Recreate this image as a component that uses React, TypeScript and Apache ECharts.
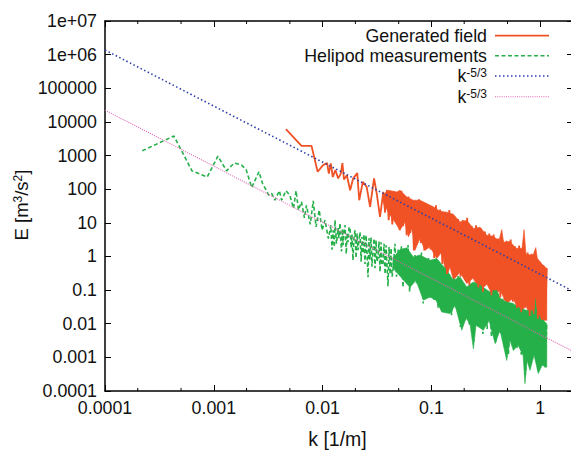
import { useEffect, useRef } from 'react';
import * as echarts from 'echarts';

const FONT = '"Liberation Sans", Arial, Helvetica, sans-serif';
const TEXT = '#111111';

// tick labels
const xTickLabels = ['0.0001', '0.001', '0.01', '0.1', '1'];
const yTickLabels = ['0.0001', '0.001', '0.01', '0.1', '1', '10', '100', '1000', '10000', '100000', '1e+06', '1e+07'];
const xMinorTicks = [0.0002, 0.0005, 0.002, 0.005, 0.02, 0.05, 0.2, 0.5];

const seriesNames = ['Generated field', 'Helipod measurements', 'k-5/3', 'k-5/3'];
const seriesColors = ['#f05226', '#26b04a', '#2e3fa6', '#e064b4'];

// Generated field: sparse low-k part
const orangeLineK = [0.0046, 0.0064, 0.0079, 0.009, 0.0101, 0.011, 0.0114, 0.0119, 0.0124, 0.0131, 0.0139, 0.0147, 0.0152, 0.0157, 0.0167, 0.0179, 0.0191, 0.0208, 0.0217, 0.0234, 0.0254, 0.0273, 0.0297, 0.0314, 0.0337, 0.0361];
const orangeLineE = [6100, 1950, 1950, 330, 520, 600, 290, 580, 230, 370, 210, 290, 600, 195, 260, 93, 210, 300, 47, 165, 117, 30, 210, 75, 15, 83];
// Generated field: oscillation in the mid range
const orangeMidK = [0.0375, 0.039, 0.0405, 0.042, 0.0437, 0.0455, 0.047, 0.049, 0.051, 0.053, 0.055, 0.057, 0.0592, 0.0615, 0.064, 0.0665, 0.069, 0.0715, 0.074, 0.077, 0.08, 0.083, 0.086, 0.089, 0.092, 0.095, 0.098];
const orangeMidE = [20, 95, 12, 80, 9, 85, 16, 70, 6, 90, 8, 55, 4.3, 60, 5, 45, 1.5, 42, 3.0, 50, 2.5, 35, 1.5, 38, 2.2, 30, 1.6];
// Generated field: oscillation in the high range
const orangeHighK = [0.102, 0.106, 0.11, 0.115, 0.12, 0.126, 0.132, 0.139, 0.146, 0.153, 0.16, 0.168, 0.176, 0.185, 0.194, 0.203, 0.213, 0.223, 0.234, 0.245, 0.257, 0.27, 0.283, 0.297, 0.31, 0.325, 0.34, 0.356, 0.373, 0.39, 0.41, 0.43, 0.45, 0.47, 0.49, 0.51, 0.535, 0.56, 0.585, 0.61, 0.64, 0.67, 0.7, 0.73, 0.765, 0.8, 0.835, 0.87, 0.91, 0.95, 0.99, 1.03, 1.07, 1.11, 1.148];
const orangeHighE = [26, 0.9, 33, 1.2, 25, 0.6, 21, 0.3, 24, 0.5, 15, 0.35, 13, 0.25, 12, 0.2, 14, 0.14, 8, 0.25, 8.5, 0.12, 7, 0.09, 5.5, 0.15, 4.8, 0.07, 4.5, 0.1, 3.4, 0.06, 3.1, 0.05, 2.9, 0.06, 3.2, 0.045, 2.0, 0.03, 2.1, 0.022, 1.9, 0.03, 1.3, 0.017, 1.2, 0.02, 1.1, 0.014, 0.7, 0.013, 0.55, 0.014, 0.45];
// Generated field: dense part, upper and lower envelope
const orangeHiK = [0.0361, 0.0402, 0.048, 0.0514, 0.0593, 0.0682, 0.0785, 0.0906, 0.104, 0.12, 0.138, 0.159, 0.183, 0.211, 0.243, 0.28, 0.322, 0.368, 0.418, 0.443, 0.46, 0.527, 0.598, 0.68, 0.71, 0.74, 0.859, 0.91, 0.94, 1.04, 1.148];
const orangeHiE = [70, 93, 83, 93, 59, 47, 47, 37.5, 30, 22, 20.7, 18, 10.6, 11.9, 6.8, 7.4, 4.3, 4.0, 3.0, 6.3, 2.65, 2.8, 1.75, 1.75, 6.3, 1.16, 1.09, 1.84, 0.88, 0.59, 0.44];
const orangeLoK = [0.0361, 0.0416, 0.0463, 0.0514, 0.0572, 0.0614, 0.0664, 0.0706, 0.0785, 0.0873, 0.097, 0.112, 0.1245, 0.138, 0.148, 0.159, 0.183, 0.211, 0.241, 0.28, 0.324, 0.37, 0.427, 0.492, 0.562, 0.652, 0.74, 0.805, 0.896, 0.996, 1.148];
const orangeLoE = [40, 17, 10.4, 6.0, 10.6, 3.8, 6.9, 1.53, 3.4, 1.53, 1.92, 0.87, 1.36, 0.245, 0.49, 0.196, 0.34, 0.156, 0.224, 0.099, 0.149, 0.062, 0.099, 0.04, 0.057, 0.02, 0.035, 0.0159, 0.025, 0.0126, 0.0126];

// Helipod measurements: sparse low-k part
const greenLineK = [0.00022, 0.00043, 0.00063, 0.00087, 0.00109, 0.00131, 0.00154, 0.0018, 0.00198, 0.00223, 0.0026, 0.0028, 0.0032, 0.0034, 0.00365, 0.004, 0.0042, 0.0046, 0.005, 0.0054, 0.0057, 0.006, 0.0064, 0.0068, 0.0071, 0.0077, 0.0082, 0.0087, 0.0093, 0.0099, 0.0105, 0.0113, 0.0119];
const greenLineE = [1380, 3800, 350, 230, 960, 350, 600, 520, 385, 112, 330, 150, 66, 75, 47, 90, 47, 90, 66, 27, 90, 24, 42, 14, 33, 9, 45, 7.6, 24, 6, 12, 3.4, 8.5];
// Helipod measurements: dense oscillation 0.012 - 0.045
const greenZigK = [0.0122, 0.0125, 0.0128, 0.013, 0.0134, 0.01387, 0.0141, 0.01445, 0.0149, 0.0152, 0.01541, 0.0157, 0.01607, 0.0165, 0.0168, 0.01711, 0.0175, 0.01786, 0.0183, 0.0186, 0.01902, 0.0194, 0.01984, 0.0203, 0.0207, 0.02115, 0.0216, 0.02206, 0.0226, 0.023, 0.0235, 0.024, 0.0245, 0.02505, 0.0256, 0.02614, 0.0267, 0.0272, 0.02786, 0.0284, 0.02904, 0.0297, 0.0303, 0.03095, 0.0316, 0.03228, 0.033, 0.0337, 0.03441, 0.0351, 0.0359, 0.0367, 0.0375, 0.03828, 0.0391, 0.0399, 0.0408, 0.0417, 0.04256, 0.0435, 0.04436];
const greenZigE = [1.6, 6, 1.9, 12, 2.4, 7, 3.5, 9.7, 1.4, 6.5, 2.15, 5.5, 8.5, 1.2, 5, 2.65, 7.5, 6.9, 1.8, 4.5, 0.77, 3.6, 6.0, 0.9, 4.8, 1.53, 3.2, 5.25, 0.7, 3.8, 1.24, 4.5, 0.6, 4.3, 1.2, 0.24, 3.5, 0.8, 3.7, 0.5, 1.53, 3.4, 0.45, 3.0, 0.7, 0.95, 2.8, 0.35, 2.65, 0.55, 0.63, 2.4, 0.3, 2.15, 0.5, 0.13, 1.9, 0.3, 1.75, 0.25, 0.39];
// Helipod measurements: oscillation in the mid range
const greenMidK = [0.0462, 0.0478, 0.0495, 0.051, 0.053, 0.0548, 0.0568, 0.0588, 0.061, 0.063, 0.0655, 0.068, 0.0705, 0.073, 0.0758, 0.0785, 0.081, 0.084, 0.087, 0.09, 0.094, 0.097, 0.1];
const greenMidE = [2.4, 0.25, 1.6, 0.3, 2.0, 0.12, 1.5, 0.2, 2.2, 0.09, 1.0, 0.17, 1.1, 0.15, 0.9, 0.1, 1.3, 0.04, 0.8, 0.07, 0.9, 0.06, 0.7];
// Helipod measurements: oscillation in the high range
const greenHighK = [0.102, 0.106, 0.11, 0.115, 0.12, 0.126, 0.132, 0.139, 0.146, 0.153, 0.16, 0.168, 0.176, 0.185, 0.194, 0.203, 0.213, 0.223, 0.234, 0.245, 0.257, 0.27, 0.283, 0.297, 0.31, 0.325, 0.34, 0.356, 0.373, 0.39, 0.41, 0.43, 0.45, 0.47, 0.49, 0.51, 0.535, 0.56, 0.585, 0.61, 0.64, 0.67, 0.7, 0.73, 0.765, 0.8, 0.835, 0.87, 0.91, 0.95, 0.99, 1.03, 1.07, 1.11, 1.148];
const greenHighE = [0.7, 0.05, 0.8, 0.03, 0.5, 0.025, 0.45, 0.04, 0.3, 0.018, 0.22, 0.03, 0.26, 0.008, 0.16, 0.012, 0.12, 0.009, 0.16, 0.003, 0.15, 0.008, 0.13, 0.005, 0.1, 0.007, 0.09, 0.004, 0.1, 0.0028, 0.08, 0.005, 0.055, 0.002, 0.045, 0.0012, 0.042, 0.002, 0.035, 0.0018, 0.03, 0.0012, 0.026, 0.0003, 0.024, 0.0005, 0.025, 0.0012, 0.03, 0.0004, 0.016, 0.0006, 0.012, 0.0005, 0.01];
// Helipod measurements: dense part, upper and lower envelope
const greenHiK = [0.0444, 0.0514, 0.0593, 0.0682, 0.0785, 0.097, 0.112, 0.138, 0.159, 0.183, 0.211, 0.243, 0.28, 0.346, 0.398, 0.427, 0.492, 0.566, 0.652, 0.752, 0.859, 0.896, 0.935, 0.996, 1.148];
const greenHiE = [0.9, 1.6, 1.8, 0.97, 1.1, 0.77, 0.87, 0.39, 0.196, 0.245, 0.124, 0.174, 0.139, 0.088, 0.099, 0.057, 0.044, 0.04, 0.028, 0.025, 0.024, 0.056, 0.022, 0.0158, 0.01];
const greenLoK = [0.0444, 0.0552, 0.0635, 0.0721, 0.0843, 0.097, 0.11, 0.1245, 0.148, 0.165, 0.19, 0.208, 0.226, 0.243, 0.257, 0.3, 0.338, 0.385, 0.427, 0.492, 0.527, 0.566, 0.625, 0.695, 0.724, 0.757, 0.805, 0.877, 0.96, 1.04, 1.148];
const greenLoE = [0.45, 0.2, 0.12, 0.196, 0.05, 0.062, 0.05, 0.0223, 0.02, 0.035, 0.0064, 0.0145, 0.01, 0.0018, 0.009, 0.0064, 0.0126, 0.00256, 0.0064, 0.00081, 0.0032, 0.0016, 0.0023, 0.00115, 0.000165, 0.00081, 0.00041, 0.00115, 0.00033, 0.00058, 0.00051];

// k^-5/3 reference lines (end points)
const kolK = [0.0001, 2];
const kolBlueE = [1.37e6, 0.093];
const kolPinkE = [2.24e4, 0.0015];

const X_MIN = 0.0001, X_MAX = 2, Y_MIN = 0.0001, Y_MAX = 1e7;

const zip = (a: number[], b: number[]) => a.map((v, i) => [v, b[i]]);

const decadeLabel = (labels: string[]) => (v: number) => {
  const l = Math.log10(v);
  const e = Math.round(l);
  if (Math.abs(l - e) > 1e-3) return '';
  return labels[e + 4] ?? '';
};

const bandSeries = (hiK: number[], hiE: number[], loK: number[], loE: number[], color: string) => ({
  type: 'custom',
  coordinateSystem: 'cartesian2d',
  xAxisIndex: 0,
  yAxisIndex: 0,
  silent: true,
  clip: true,
  data: [[0.1, 1]],
  renderItem: (_p: any, api: any) => {
    const pts: number[][] = [];
    hiK.forEach((k, i) => pts.push(api.coord([k, hiE[i]])));
    for (let i = loK.length - 1; i >= 0; i--) pts.push(api.coord([loK[i], loE[i]]));
    return { type: 'polygon', shape: { points: pts }, style: { fill: color, stroke: color, lineWidth: 0.6 } };
  },
});

const axisLineStyle = { color: '#000', width: 1.5 };
const labelStyle = { fontSize: 17.8, fontFamily: FONT, color: TEXT };

const legendRows = [35.7, 55.7, 76, 96.7];
const legendDash: (number[] | null)[] = [null, [4, 2.5], [1.5, 2.5], [1, 1.2]];
const legendWidth = [1.7, 1.5, 1.6, 1.1];

function buildOption() {
  const legendGraphics: any[] = [];
  seriesNames.forEach((name, i) => {
    const y = legendRows[i];
    const isK = name.startsWith('k');
    legendGraphics.push({
      type: 'text',
      x: 487,
      y,
      style: isK
        ? {
            text: '{a|k}{b|-5/3}',
            rich: {
              a: { fontSize: 17.8, fontFamily: FONT, fill: TEXT, verticalAlign: 'bottom' },
              b: { fontSize: 12, fontFamily: FONT, fill: TEXT, verticalAlign: 'top' },
            },
            align: 'right',
            verticalAlign: 'middle',
          }
        : { text: name, fontSize: 17.8, fontFamily: FONT, fill: TEXT, align: 'right', verticalAlign: 'middle' },
    });
    legendGraphics.push({
      type: 'line',
      shape: { x1: 495, y1: y, x2: 549, y2: y },
      style: { stroke: seriesColors[i], lineWidth: legendWidth[i], lineDash: legendDash[i] || undefined },
    });
  });

  return {
    animation: false,
    backgroundColor: '#fff',
    grid: { left: 105, top: 21, width: 468, height: 370, containLabel: false, outerBoundsMode: 'none' },
    xAxis: [
      {
        type: 'log', logBase: 10, min: X_MIN, max: X_MAX, interval: 1, position: 'bottom',
        axisLine: { show: true, lineStyle: axisLineStyle },
        axisTick: { show: true, inside: true, length: 6, lineStyle: { color: '#000', width: 1 } },
        axisLabel: { ...labelStyle, margin: 8, formatter: decadeLabel(xTickLabels), showMaxLabel: false },
        splitLine: { show: false },
      },
      {
        type: 'log', logBase: 10, min: X_MIN, max: X_MAX, interval: 1, position: 'top',
        axisLine: { show: true, lineStyle: axisLineStyle },
        axisTick: { show: true, inside: true, length: 6, lineStyle: { color: '#000', width: 1 } },
        axisLabel: { show: false },
        splitLine: { show: false },
      },
    ],
    yAxis: [
      {
        type: 'log', logBase: 10, min: Y_MIN, max: Y_MAX, interval: 1, position: 'left',
        axisLine: { show: true, lineStyle: axisLineStyle },
        axisTick: { show: true, inside: true, length: 6, lineStyle: { color: '#000', width: 1 } },
        axisLabel: { ...labelStyle, margin: 8, formatter: decadeLabel(yTickLabels) },
        splitLine: { show: false },
      },
      {
        type: 'log', logBase: 10, min: Y_MIN, max: Y_MAX, interval: 1, position: 'right',
        axisLine: { show: true, lineStyle: axisLineStyle },
        axisTick: { show: true, inside: true, length: 6, lineStyle: { color: '#000', width: 1 } },
        axisLabel: { show: false },
        splitLine: { show: false },
      },
    ],
    graphic: [
      ...legendGraphics,
      {
        type: 'text', x: 337.5, y: 439,
        style: { text: 'k [1/m]', fontSize: 19.5, fontFamily: FONT, fill: TEXT, align: 'center', verticalAlign: 'middle' },
      },
      {
        type: 'text', x: 21, y: 205, rotation: Math.PI / 2,
        style: {
          text: '{n|E [m}{s|3}{n|/s}{s|2}{n|]}',
          rich: {
            n: { fontSize: 18.5, fontFamily: FONT, fill: TEXT, verticalAlign: 'bottom' },
            s: { fontSize: 12, fontFamily: FONT, fill: TEXT, verticalAlign: 'top' },
          },
          align: 'center',
          verticalAlign: 'middle',
        },
      },
    ],
    series: [
      {
        name: seriesNames[0], type: 'line', showSymbol: false, symbol: 'none',
        data: [...zip(orangeLineK, orangeLineE), ...zip(orangeMidK, orangeMidE), ...zip(orangeHighK, orangeHighE)],
        lineStyle: { color: seriesColors[0], width: 1.8 },
      },
      bandSeries(orangeHiK, orangeHiE, orangeLoK, orangeLoE, seriesColors[0]),
      {
        name: seriesNames[1], type: 'line', showSymbol: false, symbol: 'none',
        data: [...zip(greenLineK, greenLineE), ...zip(greenZigK, greenZigE), ...zip(greenMidK, greenMidE), ...zip(greenHighK, greenHighE)],
        lineStyle: { color: seriesColors[1], width: 1.6, type: [4, 2.5] },
      },
      bandSeries(greenHiK, greenHiE, greenLoK, greenLoE, seriesColors[1]),
      {
        name: seriesNames[2], type: 'line', showSymbol: false, symbol: 'none',
        data: zip(kolK, kolBlueE),
        lineStyle: { color: seriesColors[2], width: 1.6, type: [1.5, 2.5] },
      },
      {
        name: seriesNames[3], type: 'line', showSymbol: false, symbol: 'none',
        data: zip(kolK, kolPinkE),
        lineStyle: { color: seriesColors[3], width: 1.1, type: [1, 1.2] },
      },
      {
        type: 'custom', coordinateSystem: 'cartesian2d', xAxisIndex: 0, yAxisIndex: 0,
        silent: true, clip: false,
        data: xMinorTicks.map((v) => [v, 1]),
        renderItem: (_p: any, api: any) => {
          const v = api.value(0);
          const b = api.coord([v, Y_MIN]);
          const t = api.coord([v, Y_MAX]);
          return {
            type: 'group',
            children: [
              { type: 'line', shape: { x1: b[0], y1: b[1], x2: b[0], y2: b[1] - 3 }, style: { stroke: '#000', lineWidth: 1 } },
              { type: 'line', shape: { x1: t[0], y1: t[1], x2: t[0], y2: t[1] + 3 }, style: { stroke: '#000', lineWidth: 1 } },
            ],
          };
        },
      },
    ],
  };
}

export default function App() {
  const ref = useRef<HTMLDivElement>(null);
  useEffect(() => {
    if (!ref.current) return;
    const chart = echarts.init(ref.current, null, { renderer: 'svg' });
    chart.setOption(buildOption() as any);
    return () => chart.dispose();
  }, []);
  return (
    <div
      ref={ref}
      style={{ position: 'fixed', left: 0, top: 0, width: 571, height: 451, background: '#fff' }}
    />
  );
}
